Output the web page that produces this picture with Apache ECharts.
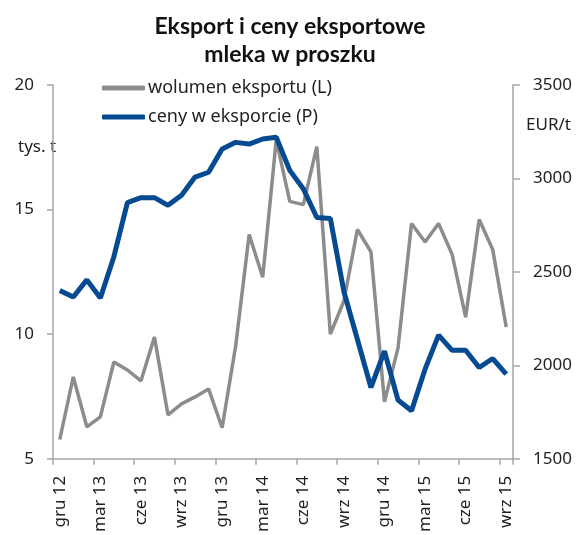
<!DOCTYPE html>
<html>
<head>
<meta charset="utf-8">
<script src="https://cdn.jsdelivr.net/npm/echarts@6/dist/echarts.min.js"></script>
<style>
  html, body { margin: 0; padding: 0; background: #fff; }
  #chart { width: 580px; height: 535px; }
</style>
</head>
<body>
<div id="chart"></div>
<script>
  // miesiace gru 12 .. wrz 15
  const months = [
    'gru 12',
    'sty 13', 'lut 13', 'mar 13', 'kwi 13', 'maj 13', 'cze 13', 'lip 13', 'sie 13', 'wrz 13', 'paź 13', 'lis 13', 'gru 13',
    'sty 14', 'lut 14', 'mar 14', 'kwi 14', 'maj 14', 'cze 14', 'lip 14', 'sie 14', 'wrz 14', 'paź 14', 'lis 14', 'gru 14',
    'sty 15', 'lut 15', 'mar 15', 'kwi 15', 'maj 15', 'cze 15', 'lip 15', 'sie 15', 'wrz 15'
  ];
  // wolumen eksportu, tys. t (lewa os)
  const volume = [5.77, 8.28, 6.28, 6.68, 8.88, 8.56, 8.12, 9.88, 6.76, 7.2, 7.48, 7.8, 6.24,
    9.52, 14.0, 12.28, 17.8, 15.33, 15.2, 17.53, 10.0, 11.33, 14.2, 13.3, 7.28,
    9.44, 14.44, 13.7, 14.44, 13.2, 10.68, 14.6, 13.4, 10.28];
  // ceny w eksporcie, EUR/t (prawa os)
  const prices = [2400, 2365, 2457, 2360, 2581, 2871, 2897, 2897, 2856, 2910, 3007, 3033, 3158,
    3193, 3184, 3211, 3220, 3043, 2945, 2791, 2786, 2395, 2138, 1881, 2076,
    1814, 1757, 1979, 2161, 2080, 2080, 1988, 2036, 1952];

  const fontFam = '"Noto Sans", sans-serif';
  const axisGray = '#a6a6a6';

  const chart = echarts.init(document.getElementById('chart'));
  const option = {
    animation: false,
    backgroundColor: '#fff',
    textStyle: { fontFamily: fontFam },
    title: {
      text: 'Eksport i ceny eksportowe\nmleka w proszku',
      left: 'center',
      top: 13,
      // przesuniecie srodka tytulu w lewo
      padding: [0, 48, 0, 0],
      textStyle: {
        fontFamily: 'Lato, sans-serif',
        fontWeight: 'bold',
        fontSize: 23,
        lineHeight: 28,
        color: '#111',
        align: 'center'
      }
    },
    legend: {
      orient: 'vertical',
      left: 97,
      top: 73,
      itemWidth: 43,
      itemHeight: 5,
      itemGap: 9,
      icon: 'roundRect',
      textStyle: { fontSize: 18, lineHeight: 20, color: '#222', padding: [0, 0, 0, -2] },
      data: ['wolumen eksportu (L)', 'ceny w eksporcie (P)']
    },
    grid: { left: 53, right: 67, top: 85, bottom: 75, containLabel: false },
    xAxis: {
      type: 'category',
      data: months,
      boundaryGap: true,
      axisLine: { lineStyle: { color: axisGray, width: 1.5 } },
      axisTick: { show: true, interval: 2, length: 6, lineStyle: { color: axisGray, width: 1.5 } },
      axisLabel: { interval: 2, rotate: 90, margin: 17, fontSize: 17, color: '#222' },
      splitLine: { show: false }
    },
    yAxis: [
      {
        type: 'value',
        min: 5, max: 20, interval: 5,
        axisLine: { show: true, lineStyle: { color: axisGray, width: 1.5 } },
        axisTick: { show: true, length: 6, lineStyle: { color: axisGray, width: 1.5 } },
        axisLabel: { margin: 19, fontSize: 17, color: '#222' },
        splitLine: { show: false }
      },
      {
        type: 'value',
        position: 'right',
        min: 1500, max: 3500, interval: 500,
        axisLine: { show: true, lineStyle: { color: axisGray, width: 1.5 } },
        axisTick: { show: true, length: 7, lineStyle: { color: axisGray, width: 1.5 } },
        axisLabel: { margin: 20, fontSize: 17, color: '#222', formatter: v => String(v) },
        splitLine: { show: false }
      }
    ],
    graphic: [
      { type: 'text', left: 18, top: 139, style: { text: 'tys. t', fontSize: 17, fontFamily: fontFam, fill: '#222' } },
      { type: 'text', left: 526, top: 117, style: { text: 'EUR/t', fontSize: 17, fontFamily: fontFam, fill: '#222' } }
    ],
    series: [
      {
        name: 'wolumen eksportu (L)',
        type: 'line',
        yAxisIndex: 0,
        data: volume,
        symbol: 'none',
        color: '#8c8c8c',
        lineStyle: { width: 3.5, color: '#8c8c8c' }
      },
      {
        name: 'ceny w eksporcie (P)',
        type: 'line',
        yAxisIndex: 1,
        data: prices,
        symbol: 'none',
        color: '#064a91',
        lineStyle: { width: 5, color: '#064a91' }
      }
    ]
  };
  chart.setOption(option);
</script>
</body>
</html>
